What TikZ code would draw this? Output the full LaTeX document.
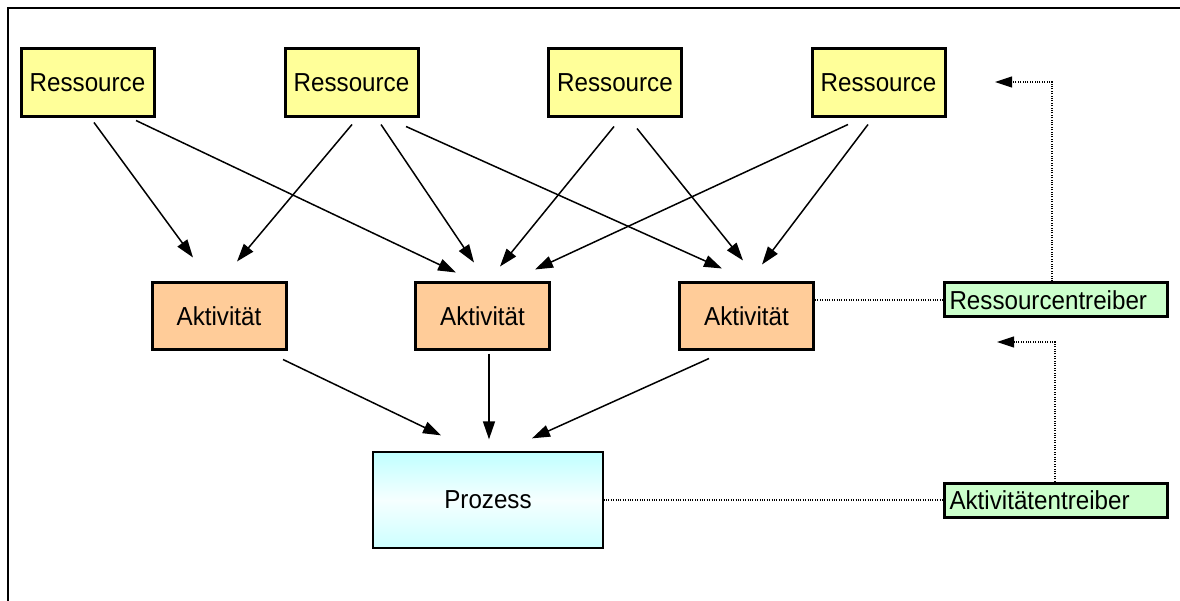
\documentclass[tikz,border=0pt]{standalone}
\usepackage{fontspec}
\setmainfont[FakeStretch=0.93]{Liberation Sans}
\usetikzlibrary{arrows.meta,calc}

\definecolor{resfill}{HTML}{FFFF99}
\definecolor{actfill}{HTML}{FFCC99}
\definecolor{drvfill}{HTML}{CCFFCC}
\definecolor{procfill}{HTML}{C0FFFF}
\definecolor{procbottom}{HTML}{CCFFFF}

\tikzset{
  box/.style={draw=black, line width=3pt, inner sep=0pt, align=center,
    font=\fontsize{26}{30}\selectfont},
  resbox/.style={box, fill=resfill, minimum width=133pt, minimum height=68pt},
  actbox/.style={box, fill=actfill, minimum width=134pt, minimum height=67pt},
  drvbox/.style={box, fill=drvfill, minimum width=223pt, minimum height=34pt,
    text width=212pt, align=left},
  procbox/.style={draw=black, line width=1.3pt, minimum width=230pt, minimum height=96pt,
    top color=procfill, bottom color=procbottom, middle color=white!85!procfill,
    font=\fontsize{26}{30}\selectfont},
  flow/.style={line width=1.5pt, -{Triangle[length=18pt,width=12pt]}},
  driver/.style={line width=1.2pt, dash pattern=on 1pt off 1.4pt},
  driverarrow/.style={driver, -{Triangle[length=17pt,width=11pt]}}
}

\begin{document}
\begin{tikzpicture}[x=1pt,y=-1pt]
  \useasboundingbox (0,0) rectangle (1180,601);
  \clip (0,0) rectangle (1180,601);

  % outer frame
  \draw[line width=2pt] (8,8) rectangle (1200,620);

  % resources
  \node[resbox] (r1) at (87.5,83) {Ressource};
  \node[resbox] (r2) at (351.5,83) {Ressource};
  \node[resbox] (r3) at (615,83) {Ressource};
  \node[resbox] (r4) at (878.5,83) {Ressource};

  % activities
  \node[actbox] (a1) at (219,316.5) {Aktivität};
  \node[actbox] (a2) at (482.5,316.5) {Aktivität};
  \node[actbox] (a3) at (746.5,316.5) {Aktivität};

  % process
  \node[procbox] (p) at (488,500) {Prozess};

  % cost drivers
  \node[drvbox] (d1) at (1055.5,300) {Ressourcentreiber};
  \node[drvbox] (d2) at (1055.5,500) {Aktivitätentreiber};

  % resources to activities
  \draw[flow] ($(r1.south)+(6.5,4)$)  -- ($(a1.north)+(-26,-24)$);
  \draw[flow] ($(r1.south)+(48.5,2)$) -- ($(a2.north)+(-26.5,-9)$);
  \draw[flow] ($(r2.south)+(0.5,6)$)  -- ($(a1.north)+(18,-20)$);
  \draw[flow] ($(r2.south)+(29.5,6)$) -- ($(a2.north)+(-8.5,-19)$);
  \draw[flow] ($(r2.south)+(54.5,8)$) -- ($(a3.north)+(-24.5,-13)$);
  \draw[flow] ($(r3.south)+(-1,8)$)   -- ($(a2.north)+(17.5,-15)$);
  \draw[flow] ($(r3.south)+(22,10)$)  -- ($(a3.north)+(-3.5,-21)$);
  \draw[flow] ($(r4.south)+(-30.5,6)$) -- ($(a2.north)+(52.5,-12)$);
  \draw[flow] ($(r4.south)+(-10.5,6)$) -- ($(a3.north)+(15.5,-17)$);

  % activities to process
  \draw[flow] ($(a1.south)+(64,8)$)    -- ($(p.north)+(-47,-16)$);
  \draw[flow] ($(a2.south)+(6.5,2)$)   -- ($(p.north)+(1,-12)$);
  \draw[flow] ($(a3.south)+(-37.5,7)$) -- ($(p.north)+(44,-13)$);

  % driver links
  \coordinate (rtip) at (995,82);
  \coordinate (atip) at (997,342);
  \draw[driver] (a3.east |- d1.west) -- (d1.west);
  \draw[driver] (p.east |- d2.west) -- (d2.west);
  \draw[driverarrow] ($(d1.north)+(-3.5,0)$) |- (rtip);
  \draw[driverarrow] ($(d2.north)+(-0.5,0)$) |- (atip);
\end{tikzpicture}
\end{document}
